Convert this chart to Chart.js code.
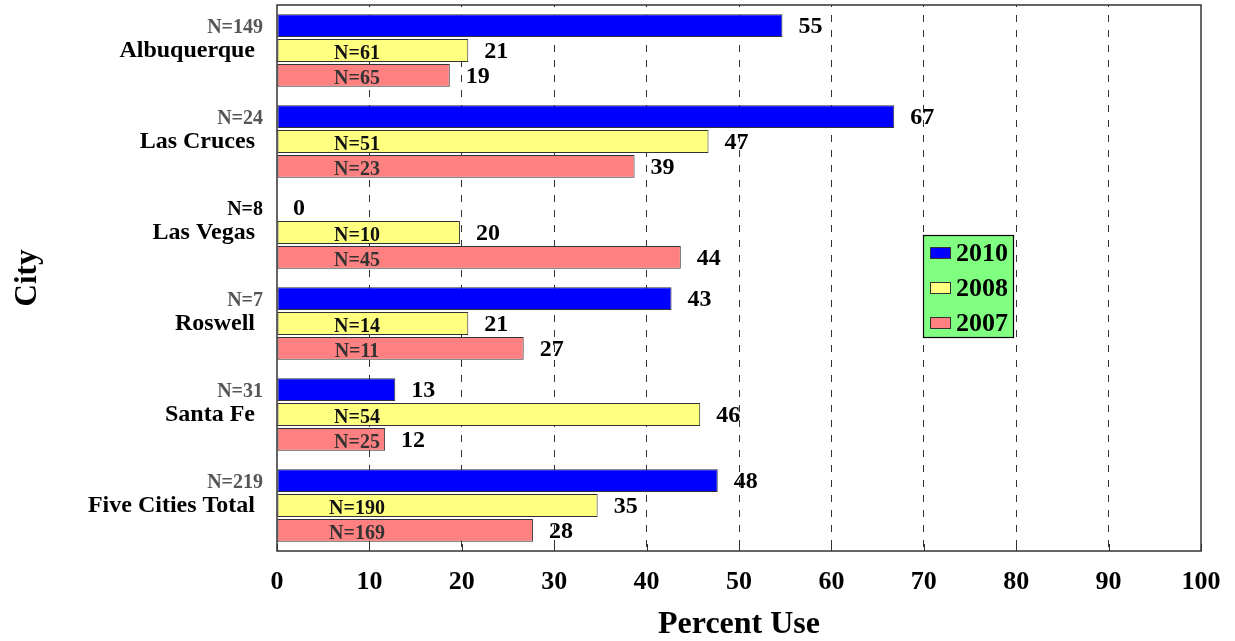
<!DOCTYPE html>
<html><head><meta charset="utf-8">
<script src="https://cdn.jsdelivr.net/npm/chart.js@4.4.1/dist/chart.umd.min.js"></script>
<style>html,body{margin:0;padding:0;background:#fff;}</style>
</head><body>
<canvas id="c" width="1235" height="641"></canvas>
<script>
const cities = ['Albuquerque','Las Cruces','Las Vegas','Roswell','Santa Fe','Five Cities Total'];
const seriesNames = ['2010','2008','2007'];
const values2010 = [54.7, 66.8, 0, 42.7, 12.8, 47.7];
const values2008 = [20.7, 46.7, 19.8, 20.7, 45.8, 34.7];
const values2007 = [18.7, 38.7, 43.7, 26.7, 11.7, 27.7];
const labels2010 = ['55','67','0','43','13','48'];
const labels2008 = ['21','47','20','21','46','35'];
const labels2007 = ['19','39','44','27','12','28'];
const n2010 = ['N=149','N=24','N=8','N=7','N=31','N=219'];
const n2008 = ['N=61','N=51','N=10','N=14','N=54','N=190'];
const n2007 = ['N=65','N=23','N=45','N=11','N=25','N=169'];
const xMin = 0, xMax = 100, xStep = 10;

const FONT = '"Liberation Serif", "Times New Roman", serif';
const colors = ['#0000FF', '#FFFF80', '#FF8080'];
const valueLabels = [labels2010, labels2008, labels2007];
const nLabels = [n2010, n2008, n2007];

const overlay = {
  id: 'overlay',
  afterDatasetsDraw(chart) {
    const ctx = chart.ctx, ca = chart.chartArea, xs = chart.scales.x;
    ctx.save();
    ctx.strokeStyle = '#333'; ctx.lineWidth = 1.5; ctx.setLineDash([]);
    ctx.strokeRect(ca.left, ca.top, ca.right - ca.left, ca.bottom - ca.top);
    ctx.lineWidth = 1;
    xs.ticks.forEach(t => {
      const px = Math.round(xs.getPixelForValue(t.value)) + 0.5;
      ctx.beginPath(); ctx.moveTo(px, ca.bottom); ctx.lineTo(px, ca.bottom - 7); ctx.stroke();
    });
    ctx.textBaseline = 'middle';
    chart.data.datasets.forEach((ds, di) => {
      const meta = chart.getDatasetMeta(di);
      meta.data.forEach((bar, i) => {
        ctx.font = 'bold 24px ' + FONT;
        ctx.fillStyle = '#000';
        ctx.textAlign = 'left';
        ctx.fillText(valueLabels[di][i], bar.x + 16, bar.y + 1);
        ctx.font = 'bold 20px ' + FONT;
        if (di === 0) {
          ctx.textAlign = 'right';
          ctx.fillStyle = ds.data[i] === 0 ? '#000' : '#555';
          ctx.fillText(nLabels[di][i], ca.left - 14, bar.y + 2);
        } else {
          ctx.textAlign = 'center';
          ctx.fillStyle = di === 1 ? '#111' : '#333';
          ctx.fillText(nLabels[di][i], ca.left + 80, bar.y + 3);
        }
      });
    });
    ctx.restore();
  },
  afterDraw(chart) {
    const ctx = chart.ctx, xs = chart.scales.x;
    const lx = Math.round(xs.getPixelForValue(70)) - 1, ly = 235, lw = 90, lh = 102;
    ctx.save();
    ctx.fillStyle = '#80FF80';
    ctx.fillRect(lx, ly, lw, lh);
    ctx.strokeStyle = '#000'; ctx.lineWidth = 1.2;
    ctx.strokeRect(lx + 0.5, ly + 0.5, lw, lh);
    ctx.textBaseline = 'middle'; ctx.textAlign = 'left';
    ctx.font = 'bold 26px ' + FONT;
    chart.data.datasets.forEach((ds, di) => {
      const cy = ly + 18 + di * 35;
      ctx.fillStyle = ds.backgroundColor;
      ctx.fillRect(lx + 7, cy - 6, 20, 11);
      ctx.strokeStyle = '#333'; ctx.lineWidth = 1;
      ctx.strokeRect(lx + 7.5, cy - 5.5, 20, 11);
      ctx.fillStyle = '#000';
      ctx.fillText(ds.label, lx + 33, cy + 1);
    });
    ctx.restore();
  }
};

new Chart(document.getElementById('c'), {
  type: 'bar',
  data: {
    labels: cities,
    datasets: [values2010, values2008, values2007].map((v, i) => ({
      label: seriesNames[i],
      data: v,
      backgroundColor: colors[i],
      borderColor: '#333',
      borderWidth: 1,
      borderSkipped: false,
      categoryPercentage: 0.82,
      barPercentage: 0.92
    }))
  },
  options: {
    indexAxis: 'y',
    responsive: false,
    animation: false,
    layout: { padding: { top: 5, right: 34, left: 0, bottom: 0 } },
    plugins: { legend: { display: false }, tooltip: { enabled: false } },
    scales: {
      x: {
        min: xMin, max: xMax,
        ticks: { stepSize: xStep, color: '#000', padding: 16, font: { family: FONT, weight: 'bold', size: 26 } },
        grid: {
          color: c => (c.tick && (c.tick.value === xMin || c.tick.value === xMax)) ? 'rgba(0,0,0,0)' : '#333',
          lineWidth: 1, drawTicks: false
        },
        border: { display: false, dash: [7, 8], dashOffset: 5 },
        title: { display: true, text: 'Percent Use', color: '#000', font: { family: FONT, weight: 'bold', size: 32, lineHeight: 1.0 }, padding: { top: 0, bottom: 0 } },
        afterFit(s) { s.height = 90; s.paddingLeft = 0; s.paddingRight = 0; }
      },
      y: {
        ticks: { color: '#000', padding: 22, font: { family: FONT, weight: 'bold', size: 24 } },
        grid: { display: false, drawTicks: false },
        border: { display: false },
        title: { display: true, text: 'City', color: '#000', font: { family: FONT, weight: 'bold', size: 31 }, padding: { top: 9, bottom: 8 } },
        afterFit(s) { s.width = 277; s.paddingTop = 0; s.paddingBottom = 0; }
      }
    }
  },
  plugins: [overlay]
});
</script>
</body></html>
